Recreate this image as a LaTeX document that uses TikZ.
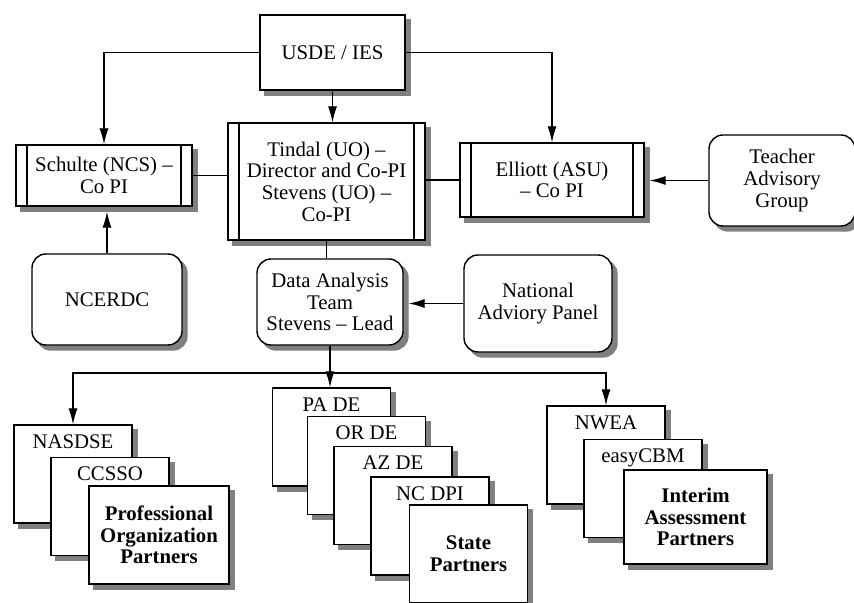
\documentclass[tikz,border=0pt]{standalone}
\usepackage{fontspec}
\setmainfont{Liberation Serif}
\usetikzlibrary{arrows.meta}

\tikzset{
  boxshadow/.style={preaction={fill=black!50,draw=black!50,transform canvas={xshift=2.5pt,yshift=-2.5pt}}},
  pibox/.style={rectangle,draw,line width=0.7pt,fill=white,boxshadow,align=center,inner sep=0pt,
    path picture={
      \draw[line width=0.7pt] ([xshift=5.5pt]path picture bounding box.north west) -- ([xshift=5.5pt]path picture bounding box.south west);
      \draw[line width=0.7pt] ([xshift=-5.5pt]path picture bounding box.north east) -- ([xshift=-5.5pt]path picture bounding box.south east);}},
  plainbox/.style={rectangle,draw,line width=0.7pt,fill=white,boxshadow,align=center,inner sep=0pt},
  roundbox/.style={plainbox,rounded corners=7pt},
  stackbox/.style={plainbox,minimum width=59pt,minimum height=49pt},
  toplabel/.style={label={[anchor=north,yshift=-5pt,inner sep=0pt]north:#1}},
  arr/.style={line width=0.55pt,-{Latex[length=8pt,width=4.5pt]}},
  link/.style={line width=0.55pt}
}

\begin{document}
\begin{tikzpicture}[x=0.5pt,y=-0.5pt,font=\fontsize{10.4}{10.8}\selectfont]
  \useasboundingbox (0,0) rectangle (854,603);

  % management boxes
  \node[plainbox,minimum width=72.5pt,minimum height=37.5pt] (usde) at (332.5,52.5) {USDE / IES};
  \node[pibox,minimum width=98.5pt,minimum height=58.5pt] (tindal) at (326.5,181.5)
    {Tindal (UO) --\\Director and Co-PI\\Stevens (UO) --\\Co-PI};
  \node[pibox,minimum width=88pt,minimum height=30.5pt] (schulte) at (104,175.5) {Schulte (NCS) --\\Co PI};
  \node[pibox,minimum width=92pt,minimum height=37pt] (elliott) at (552,180) {Elliott (ASU)\\-- Co PI};

  % advisory boxes
  \begin{scope}[every node/.style={roundbox}]
    \node[minimum width=73pt,minimum height=45.5pt] (teacher) at (782,180.5) {Teacher\\Advisory\\Group};
    \node[minimum width=75pt,minimum height=45.5pt] (ncerdc) at (107,299.5) {NCERDC};
    \node[minimum width=73pt,minimum height=43pt] (data) at (330,302) {Data Analysis\\Team\\Stevens -- Lead};
    \node[minimum width=74pt,minimum height=48.5pt] (panel) at (538,303.5) {National\\Adviory Panel};
  \end{scope}

  % partner stacks
  \node[stackbox,toplabel=NASDSE] (nasdse) at (73,474) {};
  \node[stackbox,toplabel=CCSSO] (ccsso) at (110,506.5) {};
  \node[plainbox,minimum width=70pt,minimum height=49pt,font=\fontsize{10.4}{10.8}\selectfont\bfseries] (profpartners) at (159,535)
    {Professional\\Organization\\Partners};

  \node[stackbox,toplabel=PA DE] (pade) at (331.5,437) {};
  \node[stackbox,toplabel=OR DE] (orde) at (366.5,465.5) {};
  \node[stackbox,toplabel=AZ DE] (azde) at (393,495.5) {};
  \node[stackbox,toplabel=NC DPI] (ncdpi) at (430,526) {};
  \node[stackbox,font=\fontsize{10.4}{10.8}\selectfont\bfseries] (statepartners) at (468.5,554) {State\\Partners};

  \node[stackbox,toplabel=NWEA] (nwea) at (606,455) {};
  \node[stackbox,toplabel=easyCBM] (easycbm) at (643,488.5) {};
  \node[plainbox,minimum width=71.5pt,minimum height=47pt,font=\fontsize{10.4}{10.8}\selectfont\bfseries] (testpartners) at (695.5,517)
    {Interim\\Assessment\\Partners};

  % connectors
  \coordinate (bus) at (330,373);
  \draw[arr] (usde.west) -| (schulte.north);
  \draw[arr] (usde.east) -| (elliott.north);
  \draw[arr] (usde.south) -- (usde.south |- tindal.north);
  \draw[link] (schulte.east) -- (schulte.east -| tindal.west);
  \draw[link] (elliott.west) -- (elliott.west -| tindal.east);
  \draw[arr] (teacher.west) -- ([xshift=2.5pt]teacher.west -| elliott.east);
  \draw[arr] (ncerdc.north) -- ([yshift=-2.5pt]ncerdc.north |- schulte.south);
  \draw[link] (tindal.south) -- (tindal.south |- data.north);
  \draw[arr] (panel.west) -- ([xshift=2.5pt]panel.west -| data.east);
  \draw[arr] (data.south) -- (data.south |- pade.north);
  \draw[arr] (bus) -| (nasdse.north);
  \draw[arr] (bus) -| (nwea.north);
\end{tikzpicture}
\end{document}
